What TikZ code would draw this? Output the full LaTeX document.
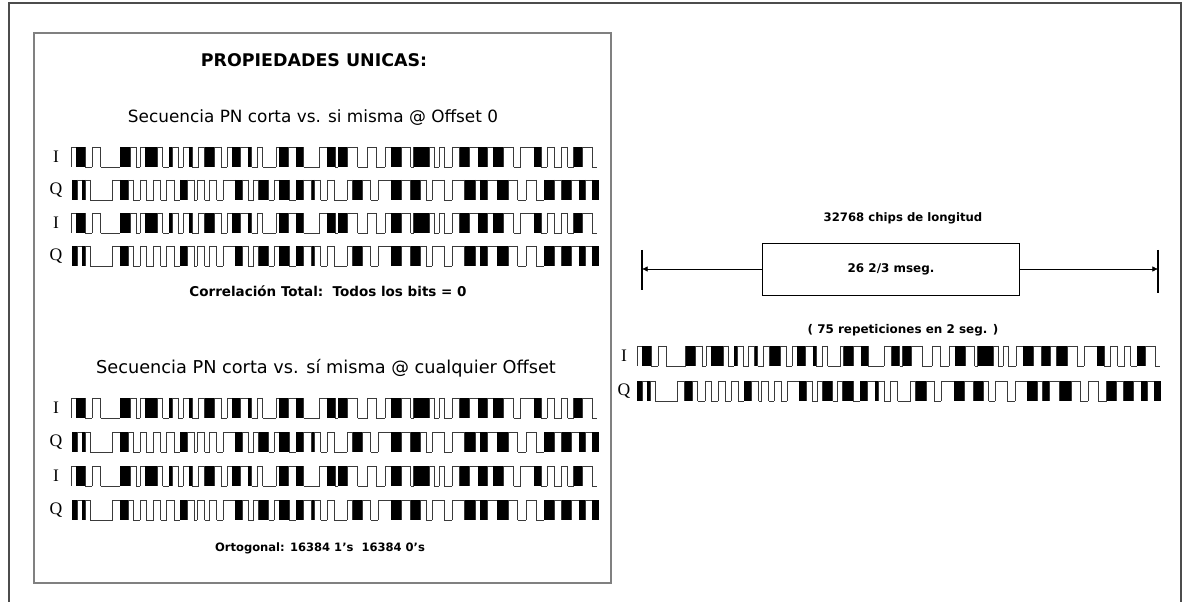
\documentclass[tikz,border=0pt]{standalone}
\usepackage{fontspec}
\setmainfont{DejaVu Sans}
\newfontfamily\labelfont{Liberation Serif}
\usetikzlibrary{arrows.meta}
\usepackage{xcolor}
\definecolor{framegray}{HTML}{808080}
\definecolor{wavegray}{HTML}{3A3A3A}

% chip patterns, widths in pixels
\newcommand{\Iseq}{h/5,b/9,l/7,h/8,l/19,b/10,h/6,l/4,h/5,b/12,h/5,l/6,b/3,h/6,l/5,h/6,b/3,l/6,h/6,b/10,h/6,l/6,h/5,b/8,h/8,b/3,l/6,h/5,l/13,h/3,b/9,h/8,b/7,l/16,h/7,b/8,l/3,b/9,h/10,l/10,h/8,l/9,h/6,b/10,h/9,l/3,b/15,h/5,l/5,h/5,l/8,h/7,b/10,h/8,b/9,h/6,b/10,h/10,l/7,h/13,b/7,l/6,h/7,l/7,h/6,l/6,b/8,h/10,l/5}
\newcommand{\Qseq}{b/5,h/5,b/3,h/5,l/22,h/7,b/8,h/5,l/7,h/6,l/7,h/7,l/6,h/7,l/6,b/7,h/7,l/3,h/7,l/5,h/7,l/6,h/12,b/7,h/6,l/5,h/5,b/10,l/5,h/5,b/10,l/7,b/7,h/8,b/3,h/6,l/6,h/7,l/13,h/5,b/10,h/8,l/7,h/13,b/10,h/9,b/10,h/5,l/6,h/12,l/8,h/12,b/10,h/5,b/7,h/10,b/11,h/9,l/8,h/10,l/8,b/10,h/7,b/10,h/7,b/6,h/7,b/7}
\def\waveh{20}

% one I or Q row: #1 scope options, #2 chip pattern
\newcommand{\pnwave}[2]{%
  \begin{scope}[#1]
    \xdef\wx{0}
    \foreach \t/\w in #2{
      \pgfmathsetmacro\nx{\wx+\w}
      \draw[wave] (\wx,0) -- (\wx,\waveh);
      \if\t b\fill[black] (\wx,0) rectangle (\nx,\waveh);\fi
      \if\t h\draw[wave] (\wx,0) -- (\nx,0);\fi
      \if\t l\draw[wave] (\wx,\waveh) -- (\nx,\waveh);\fi
      \xdef\wx{\nx}
    }
  \end{scope}}

\begin{document}
\begin{tikzpicture}[x=0.025cm,y=-0.025cm,
  wave/.style={wavegray,line width=0.55pt},
  title/.style={font=\bfseries\fontsize{12.4}{14}\selectfont},
  sub/.style={font=\fontsize{12}{14}\selectfont},
  note/.style={font=\bfseries\fontsize{8.5}{10}\selectfont},
  lbl/.style={font=\labelfont\fontsize{12.5}{15}\selectfont},
  dim/.style={line width=0.5pt,-{Latex[length=4pt,width=4pt]}},
  bar/.style={line width=1.2pt}]
\useasboundingbox (0,0) rectangle (1183,602);
% outer frame
\draw[black!70,line width=0.8pt] (9,602) -- (9,3) -- (1181,3) -- (1181,602);

% left panel
\draw[framegray,line width=1.5pt] (34,33) rectangle (611,583);
\node[title] (ttl) at (314,60) {PROPIEDADES UNICAS:};
\node[sub] (sec1) at (313,118) {Secuencia PN corta vs. si misma @ Offset 0};
\node[lbl] (i1) at (56,157) {I};
\node[lbl] (q1) at (56,190) {Q};
\node[lbl] (i2) at (56,223) {I};
\node[lbl] (q2) at (56,256) {Q};
\pnwave{shift={(71,147)},xscale=1.02}{\Iseq}
\pnwave{shift={(72,180)},xscale=1.02}{\Qseq}
\pnwave{shift={(71,213)},xscale=1.02}{\Iseq}
\pnwave{shift={(72,246)},xscale=1.02}{\Qseq}
\node[note,font=\bfseries\fontsize{9.6}{11}\selectfont] (corr) at (328,291) {Correlación Total:\ \ Todos los bits = 0};

\node[sub,font=\fontsize{12.6}{14}\selectfont] (sec2) at (326,368) {Secuencia PN corta vs. sí misma @ cualquier Offset};
\node[lbl] (i3) at (56,408) {I};
\node[lbl] (q3) at (56,442) {Q};
\node[lbl] (i4) at (56,476) {I};
\node[lbl] (q4) at (56,510) {Q};
\pnwave{shift={(71,398)},xscale=1.02}{\Iseq}
\pnwave{shift={(72,432)},xscale=1.02}{\Qseq}
\pnwave{shift={(71,466)},xscale=1.02}{\Iseq}
\pnwave{shift={(72,500)},xscale=1.02}{\Qseq}
\node[note,font=\bfseries\fontsize{8.2}{10}\selectfont] (orto) at (320,548) {Ortogonal: 16384 1's\ \ 16384 0's};

% right panel
\node[note,font=\bfseries\fontsize{8.3}{10}\selectfont] (chips) at (903,218) {32768 chips de longitud};
\node[draw,line width=0.5pt,minimum width=6.43cm,minimum height=1.3cm,note] (dur) at (891,269) {26 2/3 mseg.};
\coordinate (lend) at (642,269);
\coordinate (rend) at (1158,269);
\draw[dim] (dur.west) -- (lend);
\draw[dim] (dur.east) -- (rend);
\draw[bar] (lend) +(0,-19) -- +(0,21);
\draw[bar] (rend) +(0,-19) -- +(0,24);
\node[note] (reps) at (903,330) {( 75 repeticiones en 2 seg. )};
\node[lbl] (i5) at (624,356) {I};
\node[lbl] (q5) at (624,391) {Q};
\pnwave{shift={(637,346)},xscale=1.014}{\Iseq}
\pnwave{shift={(637,381)},xscale=1.014}{\Qseq}
\end{tikzpicture}
\end{document}
